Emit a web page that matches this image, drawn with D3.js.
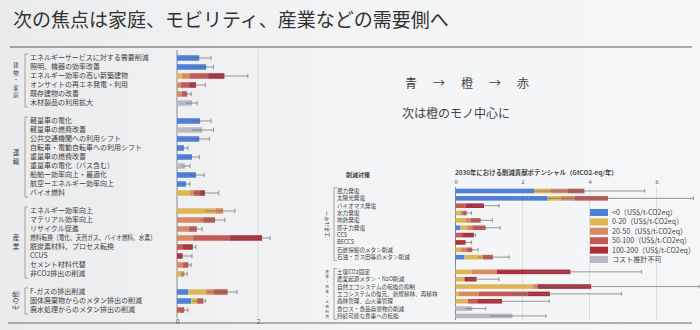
<!DOCTYPE html>
<html><head><meta charset="utf-8">
<script src="https://cdn.jsdelivr.net/npm/d3@7"></script>
<style>
html,body{margin:0;padding:0;background:#eef0f1;}
svg{display:block;font-family:"Noto Sans CJK JP","Noto Sans",sans-serif;}
</style></head>
<body><svg id="c" width="700" height="330"></svg>
<script>
// ---------- data ----------
const titleText = "次の焦点は家庭、モビリティ、産業などの需要側へ";
const noteArrow = "青→橙→赤";
const noteText = "次は橙のモノ中心に";

const leftGroups = ["建物・家庭","運輸","産業","その他"];
const leftLabels = [
 "エネルギーサービスに対する需要削減","照明、機器の効率改善","エネルギー効率の高い新築建物","オンサイトの再エネ発電・利用","既存建物の改善","木材製品の利用拡大",
 "軽量車の電化","軽量車の燃費改善","公共交通機関への利用シフト","自転車・電動自転車への利用シフト","重量車の燃費改善","重量車の電化（バス含む）","船舶ー効率向上・最適化","航空ーエネルギー効率向上","バイオ燃料",
 "エネルギー効率向上","マテリアル効率向上","リサイクル促進","燃料転換（電化、天然ガス、バイオ燃料、水素）","脱炭素材料、プロセス転換","CCUS","セメント材料代替","非CO2排出の削減",
 "F-ガスの排出削減","固体廃棄物からのメタン排出の削減","廃水処理からのメタン排出の削減"];
const leftGroupOf = [0,0,0,0,0,0, 1,1,1,1,1,1,1,1,1, 2,2,2,2,2,2,2,2, 3,3,3];
const leftNeg     = [0.55,0.72,0,0,0,0, 0.57,0,0.55,0.17,0.37,0,0.47,0.22,0, 0,0,0,0,0,0,0,0, 0.28,0.35,0];
const left0_20    = [0,0,0.12,0,0,0, 0,0,0,0,0,0,0,0,0.32, 0.95,0,0,0,0,0,0,0.1, 0.42,0.15,0];
const left20_50   = [0,0,0.2,0.1,0.12,0, 0,0,0,0,0,0,0,0,0.1, 0.19,0.65,0.3,0.4,0,0,0.15,0.08, 0.2,0,0];
const left50_100  = [0,0,0.45,0.2,0.13,0, 0,0,0,0,0,0,0,0,0.15, 0,0.29,0.19,0.9,0.15,0,0.13,0, 0.35,0.15,0.18];
const left100_200 = [0,0,0.4,0.17,0,0, 0,0,0,0,0,0,0,0,0.12, 0,0,0,0.8,0.24,0.14,0,0, 0,0,0];
const leftNA      = [0,0,0,0,0,0.37, 0,0.62,0,0,0,0.2,0,0,0, 0,0,0,0,0,0,0,0, 0,0,0];
const leftErr     = [0.84,0.9,1.75,0.7,0.35,0.5, 0.84,0.9,0.8,0.27,0.55,0.32,0.67,0.32,1.03, 1.43,1.18,0.62,2.3,0.47,0.37,0.35,0.25, 1.48,0.7,0.27];
const leftTicks = [0,2];

const rightHeader = "削減対策";
const rightTitle = "2030年における削減貢献ポテンシャル（GtCO2-eq/年）";
const rightGroups = ["エネルギー","農業・林業・土地利用"];
const rightLabels = ["風力発電","太陽光発電","バイオマス発電","水力発電","地熱発電","原子力発電","CCS","BECCS","石炭採掘のメタン削減","石油・ガス田等のメタン削減",
 "土壌CO2固定","農業起源メタン・N2O削減","自然エコシステムの転換の抑制","エコシステムの復元、新規植林、再植林","森林管理、山火事管理","食ロス・食品廃棄物の削減","持続可能な食事への転換"];
const rightGroupOf = [0,0,0,0,0,0,0,0,0,0, 1,1,1,1,1,1,1];
const rightNeg     = [2.35,2.75,0,0,0,0.15,0,0,0,0.27, 0,0,0,0,0,0,0];
const right0_20    = [0.5,0.4,0,0.15,0.3,0.2,0,0,0.15,0.55, 0.48,0.27,2.3,0.1,0.37,0,0];
const right20_50   = [0.5,0.4,0,0.08,0.15,0.15,0,0,0.2,0, 0.75,0,0.15,0.6,0,0,0];
const right50_100  = [0.5,1.0,0.3,0.1,0.3,0.4,0.2,0,0.15,0.3, 0,0,0,1.45,0.3,0,0];
const right100_200 = [0,0,0.55,0,0,0,0.35,0.3,0,0, 2.2,0.36,1.6,0.67,0.72,0,0];
const rightNA      = [0,0,0,0,0,0,0,0,0,0, 0,0,0,0,0,0.5,1.7];
const rightErr     = [5.65,7.1,1.3,0.48,1.1,1.33,0.6,0.48,0.67,1.6, 5.55,1.3,7.4,4.95,2.8,0.9,2.7];
const rightTicks = [0,2,4,6];

const legendLabels = ["<0（US$/t-CO2eq）","0-20（US$/t-CO2eq）","20-50（US$/t-CO2eq）","50-100（US$/t-CO2eq）","100-200（US$/t-CO2eq）","コスト推計不可"];
const costColors = ["#4f7fd6","#dfb655","#d98a62","#c25a55","#ad2f3c","#b9b9c3"];

// ---------- build ----------
const svg = d3.select("#c");
const defs = svg.append("defs");
const bg = defs.append("linearGradient").attr("id","bg").attr("x1","0").attr("x2","1").attr("y1","0").attr("y2","0");
bg.append("stop").attr("offset","0").attr("stop-color","#e9ebec");
bg.append("stop").attr("offset","0.5").attr("stop-color","#f2f4f5");
bg.append("stop").attr("offset","1").attr("stop-color","#f4f6f7");
svg.append("rect").attr("width",700).attr("height",330).attr("fill","url(#bg)");

const txt = "#3f3f42";
svg.append("text").attr("x",13).attr("y",27).attr("font-size",19).attr("fill","#333").text(titleText);
svg.append("line").attr("x1",10).attr("x2",692).attr("y1",47).attr("y2",47).attr("stroke","#5a5a5e").attr("stroke-width",1.2);
svg.append("line").attr("x1",8).attr("x2",692).attr("y1",323).attr("y2",323).attr("stroke","#6a6a6e").attr("stroke-width",1.2);

svg.append("text").attr("x",405).attr("y",88).attr("font-size",12).attr("letter-spacing","16px").attr("fill","#444").text(noteArrow);
svg.append("text").attr("x",402).attr("y",118).attr("font-size",12).attr("fill","#444").text(noteText);

function stackRows(n, arrs){
  const rows=[];
  for(let i=0;i<n;i++){
    let acc=0; const segs=[];
    arrs.forEach((a,k)=>{ if(a[i]>0){ segs.push({k, x0:acc, x1:acc+a[i]}); acc+=a[i]; } });
    rows.push({i, segs, total:acc});
  }
  return rows;
}

function drawPanel(o){
  const g = svg.append("g");
  const slot = o.labels.map((d,i)=> i + o.groupOf[i]*o.gap);
  const y = d3.scaleLinear().domain([0,1]).range([o.y0, o.y0+o.step]);
  const x = d3.scaleLinear().domain(o.xDomain).range(o.xRange);
  const yTop = o.axisTop, yBot = o.axisBot;
  g.selectAll(".grid").data(o.ticks.filter(t=>t>0)).join("line")
    .attr("x1",d=>x(d)).attr("x2",d=>x(d)).attr("y1",yTop).attr("y2",yBot)
    .attr("stroke","#d6d8da").attr("stroke-width",0.8);
  const ax = o.tickTop ? d3.axisTop(x) : d3.axisBottom(x);
  ax.tickValues(o.ticks).tickSize(0).tickFormat(d3.format("d"));
  const axg = g.append("g").attr("transform",`translate(0,${o.tickY})`).call(ax);
  axg.select(".domain").remove();
  axg.selectAll("text").attr("font-size",o.tickFont).attr("fill","#555").attr("font-family","Noto Sans, sans-serif");
  g.append("line").attr("x1",x(0)).attr("x2",x(0)).attr("y1",yTop).attr("y2",yBot).attr("stroke","#8a8c90").attr("stroke-width",1);
  // labels
  g.selectAll(".lab").data(o.labels).join("text")
    .attr("x",o.labelX).attr("y",(d,i)=>y(slot[i])).attr("dy","0.35em")
    .attr("font-size",o.labelFont).attr("fill",txt).text(d=>d)
    .each(function(){
      const w = this.getComputedTextLength();
      if(w > o.labelMax){ d3.select(this).attr("textLength",o.labelMax).attr("lengthAdjust","spacingAndGlyphs"); }
    });
  // brackets and group titles
  o.groups.forEach((gn,gi)=>{
    const idx = o.groupOf.map((v,i)=>v===gi?i:-1).filter(v=>v>=0);
    const a = y(slot[idx[0]])-o.step*0.45, b = y(slot[idx[idx.length-1]])+o.step*0.45;
    g.append("path").attr("d",`M${o.brX+3},${a}H${o.brX}V${b}H${o.brX+3}`).attr("fill","none").attr("stroke","#8d8f93").attr("stroke-width",0.8);
    const mid = (y(slot[idx[0]])+y(slot[idx[idx.length-1]]))/2;
    const fs = o.grpFont[gi];
    if(o.rotate[gi]){
      g.append("text").attr("transform",`translate(${o.grpX+2},${mid}) rotate(-90)`).attr("text-anchor","middle")
        .attr("font-size",fs).attr("fill",txt).text(gn);
    } else {
      const chars = Array.from(gn);
      const h = fs*1.38;
      chars.forEach((c,ci)=>{
        g.append("text").attr("x",o.grpX).attr("y",mid+(ci-(chars.length-1)/2)*h).attr("dy","0.35em")
          .attr("text-anchor","middle").attr("font-size",fs).attr("fill",txt).text(c);
      });
    }
  });
  // bars
  const rows = stackRows(o.labels.length, o.series);
  const rg = g.selectAll(".row").data(rows).join("g");
  rg.selectAll("rect").data(r=>r.segs.map(s=>({...s,i:r.i}))).join("rect")
    .attr("x",s=>x(s.x0)).attr("width",s=>Math.max(0,Math.min(x(s.x1),700)-x(s.x0)))
    .attr("y",s=>y(slot[s.i])-o.barH/2).attr("height",o.barH)
    .attr("fill",s=>costColors[s.k]);
  // error bars
  rows.forEach(r=>{
    const e = o.err[r.i], yy=y(slot[r.i]);
    const xe = Math.min(x(e),699);
    g.append("line").attr("x1",x(r.total*0.6)).attr("x2",xe).attr("y1",yy).attr("y2",yy).attr("stroke","#6b6b70").attr("stroke-width",0.7);
    g.append("line").attr("x1",xe).attr("x2",xe).attr("y1",yy-o.barH*0.4).attr("y2",yy+o.barH*0.4).attr("stroke","#6b6b70").attr("stroke-width",0.7);
  });
}

drawPanel({
  labels:leftLabels, groupOf:leftGroupOf, groups:leftGroups, gap:1.0,
  y0:58, step:9, xDomain:[0,2], xRange:[177,258],
  ticks:leftTicks, tickTop:false, tickY:316, tickFont:6.5,
  axisTop:50, axisBot:318,
  labelX:30, labelFont:7.0, labelMax:126, brX:25, grpX:16, grpFont:[5.4,6.6,6.6,6.5], rotate:[false,false,false,true],
  barH:5.5, series:[leftNeg,left0_20,left20_50,left50_100,left100_200,leftNA], err:leftErr
});

drawPanel({
  labels:rightLabels, groupOf:rightGroupOf, groups:rightGroups, gap:1.0,
  y0:191, step:7.35, xDomain:[0,6], xRange:[455.5,656.5],
  ticks:rightTicks, tickTop:true, tickY:187, tickFont:5.5,
  axisTop:187, axisBot:320,
  labelX:337, labelFont:5.6, labelMax:102, brX:334, grpX:327, grpFont:[5.4,3.6], rotate:[true,false],
  barH:4.6, series:[rightNeg,right0_20,right20_50,right50_100,right100_200,rightNA], err:rightErr
});

svg.append("text").attr("x",358).attr("y",177).attr("text-anchor","middle").attr("font-size",6).attr("font-weight","bold").attr("fill","#444").text(rightHeader);
svg.append("text").attr("x",455).attr("y",175).attr("font-size",6.4).attr("font-weight","bold").attr("fill","#444").text(rightTitle);

// legend
const lg = svg.append("g").attr("transform","translate(590,209)");
const li = lg.selectAll("g").data(legendLabels).join("g").attr("transform",(d,i)=>`translate(0,${i*9.4})`);
li.append("rect").attr("width",18).attr("height",7).attr("fill",(d,i)=>costColors[i]);
li.append("text").attr("x",22).attr("y",3.5).attr("dy","0.35em").attr("font-size",7.1).attr("fill","#444").text(d=>d);
</script></body></html>
